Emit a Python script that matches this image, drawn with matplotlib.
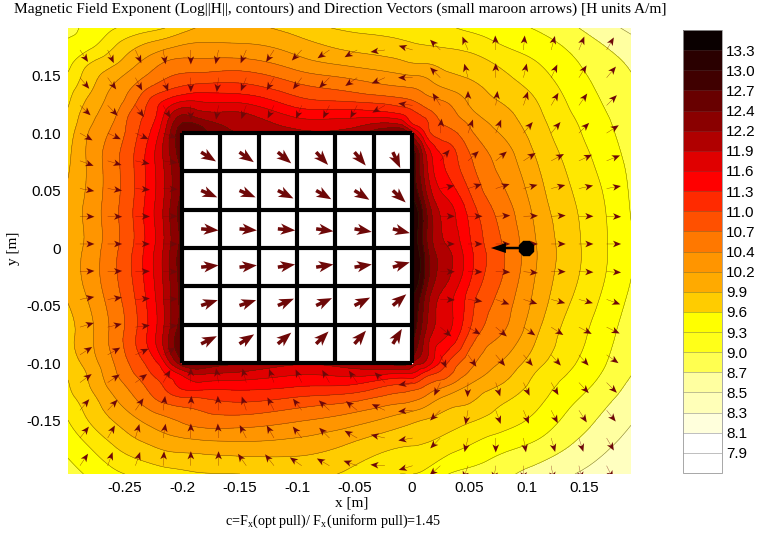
"""Log|H| contours and direction arrows around a square magnet array."""
import matplotlib
matplotlib.use("Agg")
import matplotlib.pyplot as plt
import matplotlib.tri as mtri
from matplotlib.cm import ScalarMappable
from matplotlib.colors import BoundaryNorm, ListedColormap
import numpy as np

LEVELS = [7.7, 7.9, 8.1, 8.3, 8.5, 8.7, 9.0, 9.3, 9.6, 9.9, 10.2, 10.4, 10.7,
          11.0, 11.3, 11.6, 11.9, 12.2, 12.4, 12.7, 13.0, 13.3, 13.7]
LEVEL_LABELS = ["7.9", "8.1", "8.3", "8.5", "8.7", "9.0", "9.3", "9.6", "9.9", "10.2", "10.4",
                "10.7", "11.0", "11.3", "11.6", "11.9", "12.2", "12.4", "12.7", "13.0", "13.3"]
BAR_COLORS = ["#ffffff", "#ffffff", "#ffffdc", "#ffffb8", "#ffffa0", "#ffff50", "#ffff18",
              "#ffff00", "#ffcc00", "#ffaa00", "#ff9500", "#ff7800", "#ff5000", "#ff2a00",
              "#ff0000", "#e00000", "#b00000", "#8a0000", "#680000", "#400000", "#2a0000",
              "#0a0000"]
# the plot itself runs a little deeper in the yellows than the bar does
MAP_COLORS = ["#ffffff", "#ffffff", "#ffffdc", "#ffffc0", "#ffffa0", "#ffff40", "#ffff00",
              "#ffe800", "#ffcc00", "#ffaa00", "#ff9500", "#ff7800", "#ff5000", "#ff2a00",
              "#ff0000", "#e00000", "#b00000", "#8a0000", "#680000", "#400000", "#2a0000",
              "#0a0000"]

# field nodes, metres
FIELD_X = [-0.2991, -0.2800, -0.2583, -0.2409, -0.2278, -0.2148, -0.2000, -0.1843, -0.1496,
           -0.1017, -0.0539, -0.0104, 0.0009, 0.0113, 0.0287, 0.0504, 0.0765, 0.1070, 0.1417,
           0.1904]
FIELD_Y = [0.1913, 0.1765, 0.1591, 0.1417, 0.1287, 0.1157, 0.1070, 0.1000, 0.0765, 0.0374, 0.0,
           -0.0365, -0.0757, -0.1000, -0.1078, -0.1191, -0.1322, -0.1496, -0.1713, -0.1965]
# log10|H|, one list per FIELD_X column, top to bottom (under the tiles: about 12.3)
LOG_H_COLUMNS = [
    [8.9, 9.06, 9.22, 9.45, 9.55, 9.65, 9.7, 9.75, 9.85, 10.0, 10.04, 9.97, 9.82, 9.72, 9.65, 9.58, 9.5, 9.3, 9.1, 8.88],
    [9.09, 9.22, 9.63, 9.82, 9.97, 10.1, 10.17, 10.22, 10.25, 10.27, 10.27, 10.26, 10.13, 10.05, 9.97, 9.91, 9.78, 9.63, 9.33, 9.05],
    [9.29, 9.58, 9.9, 10.22, 10.3, 10.38, 10.45, 10.5, 10.62, 10.63, 10.64, 10.62, 10.53, 10.42, 10.38, 10.3, 10.17, 9.93, 9.62, 9.24],
    [9.42, 9.83, 10.18, 10.41, 10.63, 10.84, 10.9, 10.93, 11.03, 11.04, 11.05, 11.03, 10.97, 10.82, 10.73, 10.55, 10.38, 10.15, 9.8, 9.35],
    [9.5, 9.97, 10.32, 10.65, 11.02, 11.12, 11.22, 11.3, 11.45, 11.47, 11.47, 11.45, 11.4, 11.12, 11.0, 10.8, 10.6, 10.27, 9.9, 9.42],
    [9.6, 10.08, 10.46, 10.83, 11.3, 11.65, 11.8, 11.9, 11.97, 11.97, 11.97, 11.97, 12.0, 11.6, 11.33, 11.06, 10.78, 10.35, 10.0, 9.48],
    [9.77, 10.2, 10.54, 10.97, 11.53, 12.2, 12.45, 12.6, 12.5, 12.5, 12.5, 12.5, 12.6, 12.3, 11.77, 11.4, 10.9, 10.45, 10.05, 9.53],
    [9.93, 10.23, 10.53, 11.04, 11.55, 12.05, 12.38, 12.55, 12.5, 12.5, 12.5, 12.5, 12.5, 12.4, 12.03, 11.5, 10.93, 10.55, 10.08, 9.58],
    [9.98, 10.22, 10.56, 11.05, 11.5, 11.96, 12.1, 12.2, 12.3, 12.3, 12.3, 12.3, 12.3, 12.2, 11.9, 11.45, 11.05, 10.58, 10.12, 9.6],
    [9.78, 10.05, 10.33, 10.75, 11.1, 11.53, 11.8, 12.0, 12.3, 12.3, 12.3, 12.3, 12.3, 11.95, 11.68, 11.35, 10.92, 10.44, 10.08, 9.65],
    [9.54, 9.8, 10.17, 10.55, 10.94, 11.49, 11.8, 12.05, 12.3, 12.3, 12.3, 12.3, 12.3, 12.05, 11.77, 11.3, 10.77, 10.3, 9.87, 9.55],
    [9.45, 9.68, 10.0, 10.38, 10.78, 11.36, 11.95, 12.4, 12.6, 12.6, 12.6, 12.6, 12.6, 12.3, 11.7, 10.97, 10.5, 10.05, 9.63, 9.3],
    [9.4, 9.63, 9.94, 10.36, 10.68, 11.1, 11.35, 11.95, 12.85, 13.1, 13.2, 13.05, 12.75, 12.1, 11.65, 10.93, 10.43, 9.96, 9.61, 9.3],
    [9.4, 9.6, 9.93, 10.3, 10.52, 10.92, 11.12, 11.28, 12.03, 12.41, 12.58, 12.47, 12.18, 11.85, 11.3, 10.73, 10.33, 9.89, 9.58, 9.25],
    [9.35, 9.56, 9.83, 10.13, 10.38, 10.57, 10.69, 10.82, 11.27, 11.72, 11.95, 11.85, 11.64, 11.08, 10.88, 10.47, 10.1, 9.78, 9.46, 9.03],
    [9.24, 9.49, 9.75, 9.96, 10.14, 10.27, 10.38, 10.46, 10.74, 11.13, 11.36, 11.22, 10.92, 10.5, 10.38, 10.18, 9.94, 9.64, 9.3, 8.9],
    [9.13, 9.31, 9.57, 9.75, 9.88, 10.02, 10.11, 10.19, 10.34, 10.57, 10.75, 10.67, 10.41, 10.19, 10.08, 9.9, 9.67, 9.46, 9.12, 8.79],
    [8.98, 9.15, 9.34, 9.5, 9.61, 9.69, 9.74, 9.78, 9.92, 10.11, 10.22, 10.16, 9.95, 9.72, 9.61, 9.51, 9.4, 9.23, 8.95, 8.62],
    [8.73, 8.9, 9.04, 9.14, 9.21, 9.28, 9.33, 9.36, 9.47, 9.61, 9.67, 9.6, 9.42, 9.31, 9.25, 9.15, 9.02, 8.87, 8.68, 8.5],
    [8.45, 8.58, 8.68, 8.74, 8.78, 8.82, 8.84, 8.86, 8.92, 8.98, 9.03, 8.97, 8.83, 8.75, 8.72, 8.66, 8.6, 8.52, 8.42, 8.3],
]

# small arrows: tail positions and direction in degrees
ARROW_X = [-0.2887, -0.2646, -0.2405, -0.2164, -0.1923, -0.1682, -0.1441, -0.1200, -0.0959, -0.0718,
           -0.0477, -0.0236, 0.0005, 0.0246, 0.0487, 0.0728, 0.0969, 0.1210, 0.1451, 0.1692]
ARROW_Y = [0.1722, 0.1481, 0.1240, 0.0999, 0.0758, 0.0517, 0.0276, 0.0035, -0.0206, -0.0447,
           -0.0688, -0.0929, -0.1170, -0.1411, -0.1652, -0.1893]
N = float("nan")
ARROW_DEG = [
    [-56, -65, -66, -80, -90, -102, -113, -123, -133, -145, -150, -172, 163, 135, 113, 92, 85, 75, 68, 60],
    [-50, -54, -62, -70, -90, -97, -112, -120, -127, -135, -145, -156, 180, 135, 105, 90, 77, 65, 58, 50],
    [-43, -46, -54, -60, -90, -100, -110, -116, -113, -116, -118, -150, 172, 122, 90, 83, 72, 60, 55, 45],
    [-30, -25, -25, -20, N, N, N, N, N, N, N, N, N, 85, 70, 68, 50, 50, 45, 33],
    [-20, -17, -12, -8, N, N, N, N, N, N, N, N, N, 50, 42, 40, 33, 28, 25, 22],
    [-10, -8, -5, -3, N, N, N, N, N, N, N, N, N, 12, 18, 18, 15, 14, 12, 10],
    [-2, -2, -1, 0, N, N, N, N, N, N, N, N, N, 0, 0, 3, 2, 3, 0, -2],
    [0, 0, 0, 0, N, N, N, N, N, N, N, N, N, 0, 0, 0, 0, 0, 0, 0],
    [3, 3, 2, 0, N, N, N, N, N, N, N, N, N, 0, -1, -2, -5, 0, -2, -3],
    [10, 8, 4, 2, N, N, N, N, N, N, N, N, N, -2, -8, -20, -18, -15, -15, -20],
    [17, 13, 7, 7, N, N, N, N, N, N, N, N, N, -40, -30, -40, -35, -33, -28, -26],
    [33, 30, 25, 30, N, N, N, N, N, N, N, N, N, -65, -55, -50, -50, -48, -48, -35],
    [36, 34, 36, 60, 90, 100, 105, 110, 115, 120, 125, 135, -170, -115, -92, -72, -65, -60, -47, -45],
    [50, 47, 56, 82, 88, 93, 108, 117, 127, 137, 141, 155, -175, -135, -100, -70, -68, -63, -57, -51],
    [52, 60, 74, 80, 90, 93, 117, 120, 128, 135, 150, 167, -170, -134, -104, -90, -80, -74, -72, -60],
    [56, 70, 71, 86, 90, 90, 125, 128, 145, 150, 160, 176, -163, -138, -110, -98, -88, -80, -78, -64],
]

# magnet tiles
TILE_EDGES_X = [-0.2, -0.1667, -0.1333, -0.1, -0.0667, -0.0333, 0.0]
TILE_EDGES_Y = [-0.1, -0.0667, -0.0333, 0.0, 0.0333, 0.0667, 0.1]
TILE_DEG = [
    [-32, -35, -40, -47, -50, -65],
    [-23, -23, -27, -30, -32, -43],
    [-5, -5, -5, -8, -10, -14],
    [6, 6, 9, 9, 9, 16],
    [18, 18, 23, 25, 27, 40],
    [26, 33, 40, 45, 49, 59],
]

X_TICKS = [-0.25, -0.2, -0.15, -0.1, -0.05, 0, 0.05, 0.1, 0.15]
X_TICK_LABELS = ["-0.25", "-0.2", "-0.15", "-0.1", "-0.05", "0", "0.05", "0.1", "0.15"]
Y_TICKS = [0.15, 0.10, 0.05, 0, -0.05, -0.10, -0.15]
Y_TICK_LABELS = ["0.15", "0.10", "0.05", "0", "-0.05", "-0.10", "-0.15"]

PULL_X = [0.0991]
PULL_Y = [0.0]
PULL_U = [-0.0305]
PULL_V = [0.0]

W, H = 762, 539


def px_box(left, top, right, bottom):
    return [left / W, 1 - bottom / H, (right - left) / W, (bottom - top) / H]


def main():
    plt.rcParams["font.family"] = ["Liberation Sans", "DejaVu Sans"]
    plt.rcParams["mathtext.fontset"] = "custom"
    plt.rcParams["mathtext.rm"] = "Liberation Serif"

    fig = plt.figure(figsize=(W / 100, H / 100), dpi=100)
    ax = fig.add_axes(px_box(68, 28, 631, 474))

    # contour in band-number space: the printed levels are unevenly rounded
    bands = np.arange(len(LEVELS))
    z = np.interp(np.array(LOG_H_COLUMNS).T, LEVELS, bands)
    node_x, node_y = np.meshgrid(FIELD_X, FIELD_Y)
    tri = mtri.Triangulation(node_x.ravel(), node_y.ravel())
    fine_tri, fine_z = mtri.UniformTriRefiner(tri).refine_field(z.ravel(), subdiv=3)

    norm = BoundaryNorm(bands, len(MAP_COLORS))
    ax.tricontourf(fine_tri, fine_z, levels=bands, cmap=ListedColormap(MAP_COLORS), norm=norm, zorder=1)
    ax.tricontour(fine_tri, fine_z, levels=bands[1:-1], colors="#3a3000", linewidths=0.35,
                  alpha=0.7, zorder=2)

    # small direction arrows
    ax_x, ax_y = np.meshgrid(ARROW_X, ARROW_Y)
    deg = np.radians(np.array(ARROW_DEG, dtype=float))
    ax.quiver(ax_x, ax_y, np.cos(deg), np.sin(deg), color="#6e0808", pivot="tail",
              angles="uv", units="inches", scale_units="inches", scale=1 / 0.145,
              width=0.003, headwidth=22, headlength=27, headaxislength=20, zorder=3)

    # tiles
    ex, ey = TILE_EDGES_X, TILE_EDGES_Y
    ax.fill_between([ex[0], ex[-1]], ey[0], ey[-1], color="white", zorder=4)
    ax.vlines(ex, ey[0], ey[-1], color="black", linewidth=3.0, zorder=5)
    ax.hlines(ey, ex[0], ex[-1], color="black", linewidth=3.0, zorder=5)
    tx = [(a + b) / 2 for a, b in zip(ex[:-1], ex[1:])]
    ty = [(a + b) / 2 for a, b in zip(ey[1:], ey[:-1])][::-1]
    tile_x, tile_y = np.meshgrid(tx, ty)
    tdeg = np.radians(np.array(TILE_DEG, dtype=float))
    ax.quiver(tile_x, tile_y, np.cos(tdeg), np.sin(tdeg), color="#6e0808", pivot="tail",
              angles="uv", units="inches", scale_units="inches", scale=1 / 0.175,
              width=0.035, headwidth=3.2, headlength=4.2, headaxislength=3.4, zorder=6)

    # pull force arrow
    ax.quiver(PULL_X, PULL_Y, PULL_U, PULL_V, color="black", pivot="tail", angles="xy",
              scale_units="xy", scale=1, units="inches", width=0.025, headwidth=4,
              headlength=6, headaxislength=6, zorder=7)
    ax.plot(PULL_X, PULL_Y, "8", color="black", markersize=11, zorder=7)

    ax.set_xlim(-0.2991, 0.1904)
    ax.set_ylim(-0.1965, 0.1913)
    ax.set_xticks(X_TICKS, X_TICK_LABELS, fontsize=11)
    ax.set_yticks(Y_TICKS, Y_TICK_LABELS, fontsize=11)
    ax.tick_params(length=0, pad=5)
    for spine in ax.spines.values():
        spine.set_visible(False)

    serif = ["Liberation Serif", "DejaVu Serif"]
    fig.text(14 / W, 1 - 9 / H, "Magnetic Field Exponent (Log||H||, contours) and Direction Vectors "
             "(small maroon arrows) [H units A/m]", family=serif, fontsize=11.1, va="center", ha="left")
    fig.text(352 / W, 1 - 503 / H, "x [m]", family=serif, fontsize=11, ha="center", va="center")
    fig.text(13 / W, 1 - 248 / H, "y [m]", family=serif, fontsize=11, rotation=90, ha="center", va="center")
    fig.text(333 / W, 1 - 521 / H, r"c=F$_{\mathrm{x}}$(opt pull)/ F$_{\mathrm{x}}$(uniform pull)=1.45",
             family=serif, fontsize=10.2, ha="center", va="center")

    cax = fig.add_axes(px_box(683, 30, 722, 473))
    bar = ScalarMappable(norm=norm, cmap=ListedColormap(BAR_COLORS))
    cb = fig.colorbar(bar, cax=cax, ticks=bands[1:-1])
    cb.ax.set_yticklabels(LEVEL_LABELS, fontsize=11)
    cb.ax.minorticks_off()
    cb.ax.tick_params(length=0, pad=3)
    cb.outline.set_edgecolor("#999999")
    cb.outline.set_linewidth(0.6)
    for band in bands[1:-1]:
        cb.ax.axhline(band, color="#444444", linewidth=0.4, alpha=0.6)

    fig.savefig("out.png", dpi=100)


if __name__ == "__main__":
    main()
